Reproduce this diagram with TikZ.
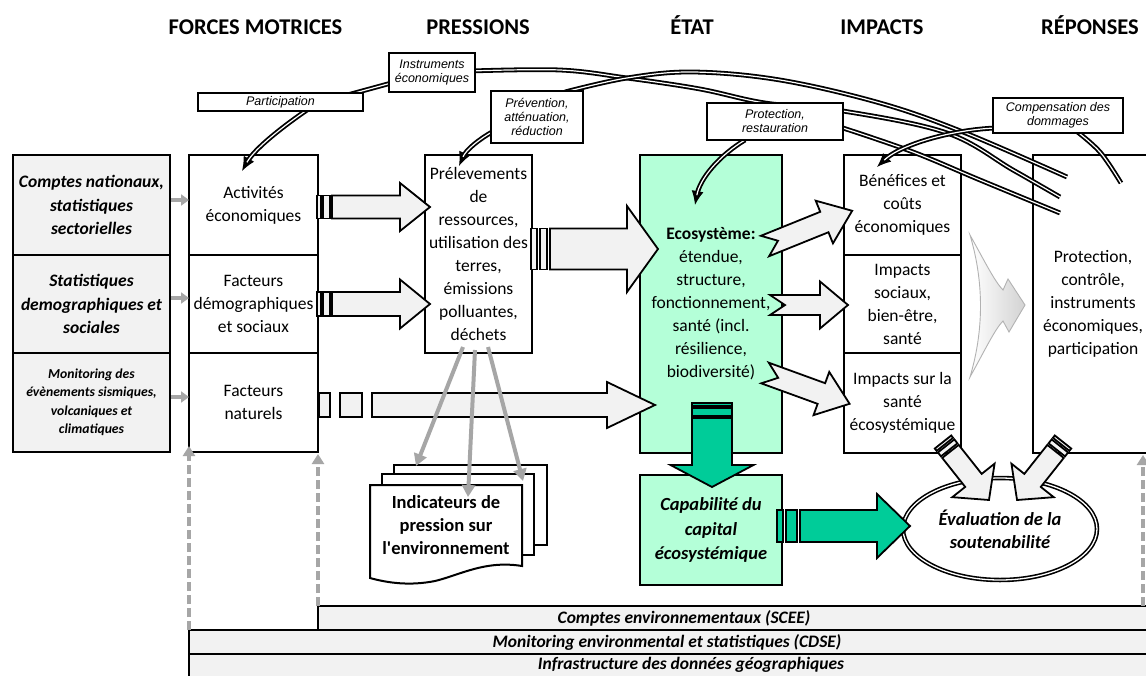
\documentclass[tikz,border=0pt]{standalone}
\usepackage{fontspec}
\setmainfont{Carlito}
\newfontfamily\arialf{Liberation Sans}
\usetikzlibrary{arrows.meta,shapes.geometric}
\definecolor{boxgray}{RGB}{242,242,242}
\definecolor{ecogreen}{RGB}{180,255,216}
\definecolor{arrgreen}{RGB}{0,204,153}
\definecolor{lgray}{RGB}{166,166,166}
\newcommand{\sarrow}[8]{%
  \draw[#8] (0,-#2) rectangle (#5,#2);
  \draw[#8] ({#5+#6},-#2) rectangle ({#5+#6+#7},#2);
  \draw[#8] ({#5+#6+#7+#6},-#2) -- ({#1-#4},-#2) -- ({#1-#4},-#3) -- (#1,0) -- ({#1-#4},#3) -- ({#1-#4},#2) -- ({#5+#6+#7+#6},#2) -- cycle;}
\newcommand{\narrow}[6]{%
  \draw[#6] (0,-#2) -- ({#1-#4},-#2) -- ({#1-#4},-#3) -- (#1,0) -- ({#1-#4},#3) -- ({#1-#4},#2) -- (0,#2) -- (#5,0) -- cycle;}
\newcommand{\dcurve}[1]{\draw[tipline] #1; \draw[dbl, shorten >=10pt] #1;}
\begin{document}
\begin{tikzpicture}[x=1pt,y=-1pt,
 box/.style={draw, line width=2pt, inner sep=0pt, outer sep=0pt, align=center, fill=white, font=\fontsize{17.5}{23}\selectfont},
 lbox/.style={box, fill=boxgray, font=\bfseries\itshape\fontsize{17.5}{23.5}\selectfont},
 lab/.style={draw, line width=1.9pt, fill=white, inner sep=0pt, outer sep=0pt, align=center, font=\arialf\itshape\fontsize{12.5}{14}\selectfont},
 hdr/.style={font=\bfseries\fontsize{22.5}{26}\selectfont, inner sep=0pt, anchor=base},
 bar/.style={draw, line width=2pt, fill=boxgray, inner sep=0pt, outer sep=0pt},
 bartxt/.style={font=\bfseries\itshape\fontsize{17.5}{20}\selectfont, inner sep=0pt},
 blk/.style={draw, line width=1.8pt, fill=boxgray, line join=miter},
 grn/.style={draw, line width=1.8pt, fill=arrgreen, line join=miter},
 dbl/.style={draw, double=white, double distance=1.2pt, line width=1.8pt},
 tipline/.style={line width=1.2pt, -{Latex[length=14pt,width=12pt]}},
 garr/.style={draw=lgray, line width=4pt, -{Triangle[length=12pt,width=13pt]}},
 sgarr/.style={draw=lgray, line width=4pt, -{Triangle[length=8pt,width=11pt]}},
 dgarr/.style={draw=lgray, line width=4pt, dash pattern=on 9pt off 4pt, -{Triangle[length=10pt,width=12pt]}},
]
\useasboundingbox (0,0) rectangle (1146,675);
\clip (0,0) rectangle (1146,675);
\fill[white] (0,0) rectangle (1146,675);

% headers
\node[hdr] (h1) at (255.5,34) {FORCES MOTRICES};
\node[hdr] (h2) at (478,34) {PRESSIONS};
\node[hdr] (h3) at (692,34) {ÉTAT};
\node[hdr] (h4) at (882,34) {IMPACTS};
\node[hdr] (h5) at (1090,34) {RÉPONSES};

% bottom bars
\node[bar, minimum width=842pt, minimum height=24pt] (b1) at (739,618) {};
\node[bar, minimum width=971pt, minimum height=24pt] (b2) at (674.5,642) {};
\node[bar, minimum width=971pt, minimum height=24pt] (b3) at (674.5,666) {};
\node[bartxt] (t1) at (684,618) {Comptes environnementaux (SCEE)};
\node[bartxt] (t2) at (667,642) {Monitoring environmental et statistiques (CDSE)};
\node[bartxt] (t3) at (691,665) {Infrastructure des données géographiques};

% left column
\node[lbox, minimum width=157pt, minimum height=100pt] (l1) at (91.5,205) {Comptes nationaux,\\statistiques\\sectorielles};
\node[lbox, minimum width=157pt, minimum height=98pt] (l2) at (91.5,304) {Statistiques\\demographiques et\\sociales};
\node[lbox, minimum width=157pt, minimum height=99pt, font=\bfseries\itshape\fontsize{13.7}{18.5}\selectfont] (l3) at (91.5,402.5) {Monitoring des\\évènements sismiques,\\volcaniques et\\climatiques};

% driving forces
\node[box, minimum width=129pt, minimum height=100pt] (act) at (253.5,205) {Activités\\économiques};
\node[box, minimum width=129pt, minimum height=98pt] (dem) at (253.5,304) {Facteurs\\démographiques\\et sociaux};
\node[box, minimum width=129pt, minimum height=99pt] (nat) at (253.5,402.5) {Facteurs\\naturels};

% pressures
\node[box, minimum width=107pt, minimum height=198pt] (pre) at (478.5,254) {Prélevements\\de\\ressources,\\utilisation des\\terres,\\émissions\\polluantes,\\déchets};

% state
\node[box, fill=ecogreen, minimum width=142pt, minimum height=298pt] (eco) at (711,304) {\textbf{Ecosystème:}\\étendue,\\structure,\\fonctionnement,\\santé (incl.\\résilience,\\biodiversité)};
\node[box, fill=ecogreen, minimum width=142pt, minimum height=110pt, font=\bfseries\itshape\fontsize{18.5}{24.5}\selectfont] (cap) at (711,530) {Capabilité du\\capital\\écosystémique};

% impacts
\node[box, minimum width=117pt, minimum height=100pt] (imp1) at (902.5,205) {Bénéfices et\\coûts\\économiques};
\node[box, minimum width=117pt, minimum height=98pt] (imp2) at (902.5,304) {Impacts\\sociaux,\\bien-être,\\santé};
\node[box, minimum width=117pt, minimum height=100pt] (imp3) at (902.5,403) {Impacts sur la\\santé\\écosystémique};

% responses
\node[box, minimum width=120pt, minimum height=298pt] (rep) at (1093,304) {Protection,\\contrôle,\\instruments\\économiques,\\participation};

% sustainability ellipse
\node[ellipse, draw, double=white, double distance=1.3pt, line width=1.6pt, fill=white, minimum width=194pt, minimum height=102pt, inner sep=0pt, align=center, font=\bfseries\itshape\fontsize{18.5}{23}\selectfont] (eval) at (1000,529) {Évaluation de la\\soutenabilité};

% response curves
\dcurve{(307,110) .. controls (285,125) and (255,148) .. (242,171)}
\draw[dbl] (340,97) -- (395,82);
\draw[dbl] plot[smooth, tension=0.6] coordinates {(470,71) (560,70) (627,78) (700,89) (765,103) (843,111) (947,133) (1013,170) (1060,197)};
\draw[dbl] plot[smooth, tension=0.6] coordinates {(565,92) (627,78) (693,72) (780,80) (880,103) (963,132) (1067,177)};
\dcurve{(492,132) .. controls (478,140) and (466,150) .. (459,166)}
\draw[dbl] plot[smooth, tension=0.6] coordinates {(843,128) (913,152) (980,180) (1060,213)};
\dcurve{(745,140) .. controls (720,155) and (700,178) .. (695,205)}
\dcurve{(995,128) .. controls (950,130) and (900,145) .. (877,167)}
\draw[dbl] plot[smooth, tension=0.6] coordinates {(1075,130) (1100,152) (1121,183)};

% label boxes
\node[lab, minimum width=165pt, minimum height=18pt] (lpart) at (280.5,102) {Participation};
\node[lab, minimum width=86pt, minimum height=39pt] (linst) at (432,72.5) {Instruments\\économiques};
\node[lab, minimum width=92pt, minimum height=52pt] (lprev) at (537,117) {Prévention,\\atténuation,\\réduction};
\node[lab, minimum width=136pt, minimum height=37pt] (lprot) at (775,121.5) {Protection,\\restauration};
\node[lab, minimum width=130pt, minimum height=35pt] (lcomp) at (1058,115.5) {Compensation des\\dommages};

% small gray arrows from statistics to drivers
\draw[sgarr] (171,200) -- (189,200);
\draw[sgarr] (171,298) -- (189,298);
\draw[sgarr] (171,397) -- (189,397);

% striped block arrows
\begin{scope}[shift={(317,207)}] \sarrow{113}{11.5}{24}{30}{4}{2}{7}{blk} \end{scope}
\begin{scope}[shift={(317,304)}] \sarrow{113}{12}{24.5}{30}{4}{2}{7}{blk} \end{scope}
\begin{scope}[shift={(531,249)}] \sarrow{127}{20.5}{43}{31}{6}{3}{7}{blk} \end{scope}
\draw[blk] (319,393) rectangle (330,417);
\draw[blk] (340,393) rectangle (362,417);
\draw[blk] (372,393) -- (607,393) -- (607,382) -- (655,405) -- (607,428) -- (607,417) -- (372,417) -- cycle;

% notched arrows ecosystem -> impacts
\begin{scope}[shift={(765,246)}, rotate=22] \narrow{94}{11}{23}{30}{14}{blk} \end{scope}
\begin{scope}[shift={(770,305)}] \narrow{78}{10}{23.5}{28}{15}{blk} \end{scope}
\begin{scope}[shift={(765,373)}, rotate=-20] \narrow{90}{11}{23}{30}{14}{blk} \end{scope}

% green arrows
\begin{scope}[shift={(712,403)}, rotate=-90] \sarrow{84}{20}{41.5}{22}{3}{2}{8}{grn} \end{scope}
\begin{scope}[shift={(777,526)}] \sarrow{133}{16}{32}{33}{6}{3}{11}{grn} \end{scope}

% gray arrows into evaluation
\begin{scope}[shift={(943,442)}, rotate=-51.6] \sarrow{74}{10.5}{27}{25}{3}{2}{5}{blk} \end{scope}
\begin{scope}[shift={(1063,442)}, rotate=-128.4] \sarrow{74}{10.5}{27}{25}{3}{2}{5}{blk} \end{scope}

% faint chevron impacts -> responses
\draw[gray!60, line width=0.9pt, left color=white, right color=gray!35] (970,235) .. controls (985,262) and (995,282) .. (1003,290) -- (1008,279) -- (1025,305) -- (1009,332) -- (1003,321) .. controls (995,329) and (985,350) .. (970,377) .. controls (984,330) and (984,282) .. (970,235) -- cycle;

% indicator documents
\draw[line width=2pt, fill=white] (394,465) rectangle (547,545);
\draw[line width=2pt, fill=white] (382,474) rectangle (534,555);
\draw[line width=2pt, fill=white] (370,485) -- (522,485) -- (522,566) .. controls (485,560) and (460,575) .. (435,581) .. controls (410,586) and (388,583) .. (370,578) -- cycle;
\node[font=\bfseries\fontsize{18.5}{23}\selectfont, align=center, inner sep=0pt] (ind) at (446,525) {Indicateurs de\\pression sur\\l\textquotesingle environnement};

% gray arrows pressures -> indicators
\draw[garr] (463,347) -- (416,466);
\draw[garr] (475,350) -- (468,497);
\draw[garr] (488,347) -- (523,481);

% dashed gray arrows from data layers
\draw[dgarr] (189,630) -- (189,446);
\draw[dgarr] (318,606) -- (318,454);
\draw[dgarr] (1143,606) -- (1143,455);
\end{tikzpicture}
\end{document}
